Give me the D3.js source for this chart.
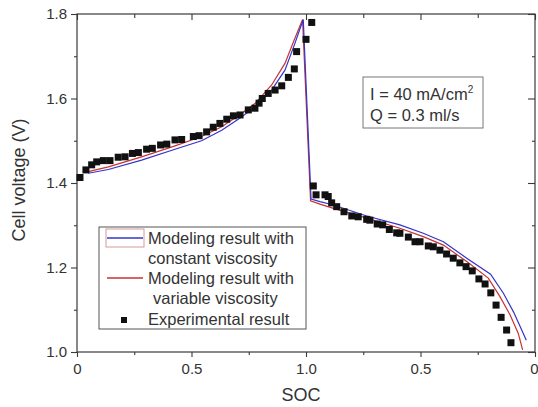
<!DOCTYPE html>
<html>
<head>
<meta charset="utf-8">
<script src="https://cdn.jsdelivr.net/npm/d3@7"></script>
<style>
  body { margin: 0; background: #fff; }
  svg { display: block; font-family: "Liberation Sans", Arial, sans-serif; }
</style>
</head>
<body>
<div id="chart"></div>
<script>
// axis ticks (x runs 0..1 charging, then 1..0 discharging)
var xTickVals = [0, 0.5, 1, 1.5, 2];
var xTickLabels = ["0", "0.5", "1.0", "0.5", "0"];
var xMinorVals = [0.25, 0.75, 1.25, 1.75];
var yTickVals = [1.0, 1.2, 1.4, 1.6, 1.8];
var yMinorVals = [1.1, 1.3, 1.5, 1.7];

// experimental points
var expX = [0.013, 0.039, 0.064, 0.086, 0.115, 0.144, 0.18, 0.21, 0.242, 0.268,
  0.304, 0.329, 0.365, 0.392, 0.428, 0.457, 0.508, 0.533, 0.566, 0.595,
  0.624, 0.654, 0.683, 0.712, 0.748, 0.777, 0.795, 0.809, 0.835, 0.865,
  0.894, 0.923, 0.949, 0.959, 1.0, 1.025,
  1.032, 1.044, 1.083, 1.097, 1.112, 1.134, 1.166, 1.2, 1.228, 1.265,
  1.279, 1.311, 1.335, 1.364, 1.396, 1.41, 1.447, 1.476, 1.498, 1.534,
  1.556, 1.585, 1.614, 1.643, 1.672, 1.699, 1.726, 1.755, 1.782, 1.807,
  1.83, 1.852, 1.876, 1.895];
var expV = [1.413, 1.431, 1.443, 1.450, 1.453, 1.453, 1.461, 1.462, 1.470, 1.472,
  1.480, 1.482, 1.490, 1.492, 1.502, 1.503, 1.510, 1.512, 1.521, 1.532,
  1.541, 1.551, 1.559, 1.561, 1.573, 1.577, 1.589, 1.600, 1.612, 1.620,
  1.630, 1.650, 1.670, 1.711, 1.740, 1.780,
  1.393, 1.372, 1.372, 1.368, 1.353, 1.344, 1.332, 1.322, 1.320, 1.314,
  1.312, 1.303, 1.301, 1.290, 1.282, 1.281, 1.272, 1.261, 1.261, 1.251,
  1.249, 1.241, 1.232, 1.222, 1.211, 1.202, 1.192, 1.173, 1.161, 1.140,
  1.111, 1.082, 1.052, 1.022];

// model, constant viscosity (blue)
var constX = [0.049, 0.137, 0.282, 0.428, 0.544, 0.632, 0.704, 0.777, 0.85, 0.908,
  0.952, 0.988, 1.022, 1.061, 1.12, 1.265, 1.41, 1.512, 1.6, 1.702,
  1.806, 1.862, 1.906, 1.942, 1.962];
var constV = [1.423, 1.432, 1.454, 1.480, 1.500, 1.525, 1.551, 1.579, 1.620, 1.667,
  1.731, 1.787, 1.362, 1.356, 1.348, 1.322, 1.301, 1.281, 1.261, 1.222,
  1.184, 1.139, 1.095, 1.052, 1.028];

// model, variable viscosity (red)
var varX = [0.049, 0.137, 0.282, 0.428, 0.544, 0.632, 0.704, 0.777, 0.85, 0.908,
  0.952, 0.985, 1.02, 1.061, 1.12, 1.265, 1.41, 1.512, 1.6, 1.702,
  1.796, 1.847, 1.891, 1.927, 1.946];
var varV = [1.427, 1.438, 1.462, 1.488, 1.510, 1.533, 1.559, 1.588, 1.632, 1.683,
  1.743, 1.787, 1.358, 1.350, 1.340, 1.317, 1.293, 1.273, 1.253, 1.214,
  1.175, 1.131, 1.088, 1.044, 1.005];

var W = 538, H = 407;
var margin = {top: 14, right: 3, bottom: 55, left: 77};

var x = d3.scaleLinear().domain([0, 2]).range([margin.left, W - margin.right]);
var y = d3.scaleLinear().domain([1.0, 1.8]).range([H - margin.bottom, margin.top]);

var blue = "#3434c8", red = "#c83232", axisCol = "#3a3a3a", textCol = "#333";

var svg = d3.select("#chart").append("svg")
    .attr("width", W)
    .attr("height", H);

// frame
svg.append("rect")
  .attr("x", x(0)).attr("y", y(1.8))
  .attr("width", x(2) - x(0)).attr("height", y(1.0) - y(1.8))
  .attr("fill", "none").attr("stroke", axisCol).attr("stroke-width", 1.2);

function styleAxis(g) {
  g.select(".domain").remove();
  g.selectAll(".tick line").attr("stroke", axisCol).attr("stroke-width", 1.1);
  g.selectAll(".tick text").attr("fill", textCol).style("font-size", "15px")
    .style("font-family", "Liberation Sans, Arial, sans-serif");
}

// bottom axis
var bottomAxis = svg.append("g")
  .attr("transform", "translate(0," + y(1.0) + ")")
  .call(d3.axisBottom(x).tickValues(xTickVals).tickSize(5).tickPadding(6)
    .tickFormat(function(d, i) { return xTickLabels[i]; }))
  .call(styleAxis);
// last label sits against the right edge of the picture
bottomAxis.selectAll(".tick text")
  .filter(function(d) { return d === 2; })
  .attr("text-anchor", "end").attr("x", 3);
svg.append("g")
  .attr("transform", "translate(0," + y(1.0) + ")")
  .call(d3.axisBottom(x).tickValues(xMinorVals).tickSize(3).tickFormat(""))
  .call(styleAxis);

// top axis (inward)
svg.append("g")
  .attr("transform", "translate(0," + y(1.8) + ")")
  .call(d3.axisBottom(x).tickValues(xTickVals).tickSize(6).tickFormat(""))
  .call(styleAxis);
svg.append("g")
  .attr("transform", "translate(0," + y(1.8) + ")")
  .call(d3.axisBottom(x).tickValues(xMinorVals).tickSize(4).tickFormat(""))
  .call(styleAxis);

// left axis
svg.append("g")
  .attr("transform", "translate(" + x(0) + ",0)")
  .call(d3.axisLeft(y).tickValues(yTickVals).tickSize(6).tickPadding(4)
    .tickFormat(d3.format(".1f")))
  .call(styleAxis);
svg.append("g")
  .attr("transform", "translate(" + x(0) + ",0)")
  .call(d3.axisLeft(y).tickValues(yMinorVals).tickSize(3).tickFormat(""))
  .call(styleAxis);

// right axis (inward)
svg.append("g")
  .attr("transform", "translate(" + x(2) + ",0)")
  .call(d3.axisLeft(y).tickValues(yTickVals).tickSize(7).tickFormat(""))
  .call(styleAxis);
svg.append("g")
  .attr("transform", "translate(" + x(2) + ",0)")
  .call(d3.axisLeft(y).tickValues(yMinorVals).tickSize(3).tickFormat(""))
  .call(styleAxis);

// axis titles
svg.append("text")
  .attr("x", (x(0) + x(2)) / 2 - 5).attr("y", 401)
  .attr("text-anchor", "middle").attr("fill", textCol)
  .style("font-size", "18px").text("SOC");
svg.append("text")
  .attr("transform", "translate(25," + 180 + ") rotate(-90)")
  .attr("text-anchor", "middle").attr("fill", textCol)
  .style("font-size", "18px").text("Cell voltage (V)");

// model lines
var line = d3.line()
  .x(function(d) { return x(d[0]); })
  .y(function(d) { return y(d[1]); });

svg.append("path")
  .datum(varX.map(function(v, i) { return [v, varV[i]]; }))
  .attr("d", line).attr("fill", "none")
  .attr("stroke", red).attr("stroke-width", 1.2);
svg.append("path")
  .datum(constX.map(function(v, i) { return [v, constV[i]]; }))
  .attr("d", line).attr("fill", "none")
  .attr("stroke", blue).attr("stroke-width", 1.2);

// experimental squares
var sq = 7;
svg.selectAll("rect.exp")
  .data(expX.map(function(v, i) { return [v, expV[i]]; }))
  .enter().append("rect")
    .attr("class", "exp")
    .attr("x", function(d) { return x(d[0]) - sq / 2; })
    .attr("y", function(d) { return y(d[1]) - sq / 2; })
    .attr("width", sq).attr("height", sq)
    .attr("fill", "#111");

// legend
var lg = svg.append("g");
lg.append("rect")
  .attr("x", 99).attr("y", 227).attr("width", 207).attr("height", 102)
  .attr("fill", "#fff").attr("stroke", "#555").attr("stroke-width", 1);
lg.append("rect")
  .attr("x", 106).attr("y", 229).attr("width", 38).attr("height", 18)
  .attr("fill", "none").attr("stroke", "#d49a9a").attr("stroke-width", 1);
lg.append("line")
  .attr("x1", 107).attr("x2", 143).attr("y1", 238).attr("y2", 238)
  .attr("stroke", blue).attr("stroke-width", 1.4);
lg.append("line")
  .attr("x1", 107).attr("x2", 143).attr("y1", 278).attr("y2", 278)
  .attr("stroke", red).attr("stroke-width", 1.4);
lg.append("rect")
  .attr("x", 121).attr("y", 317).attr("width", 6).attr("height", 6)
  .attr("fill", "#111");

var legendLines = [
  ["Modeling result with", 148, 244],
  ["constant viscosity", 148, 264],
  ["Modeling result with", 148, 284],
  ["variable viscosity", 153, 304],
  ["Experimental result", 148, 325]
];
lg.selectAll("text")
  .data(legendLines)
  .enter().append("text")
    .attr("x", function(d) { return d[1]; })
    .attr("y", function(d) { return d[2]; })
    .attr("fill", textCol)
    .style("font-size", "16.5px")
    .text(function(d) { return d[0]; });

// condition box
var cb = svg.append("g");
cb.append("rect")
  .attr("x", 363).attr("y", 77).attr("width", 120).attr("height", 51)
  .attr("fill", "#fff").attr("stroke", "#777").attr("stroke-width", 1);
var t1 = cb.append("text")
  .attr("x", 370).attr("y", 100).attr("fill", textCol)
  .style("font-size", "16.5px");
t1.append("tspan").text("I = 40 mA/cm");
t1.append("tspan").attr("dy", -7).style("font-size", "10px").text("2");
cb.append("text")
  .attr("x", 370).attr("y", 121).attr("fill", textCol)
  .style("font-size", "16.5px").text("Q = 0.3 ml/s");
</script>
</body>
</html>
